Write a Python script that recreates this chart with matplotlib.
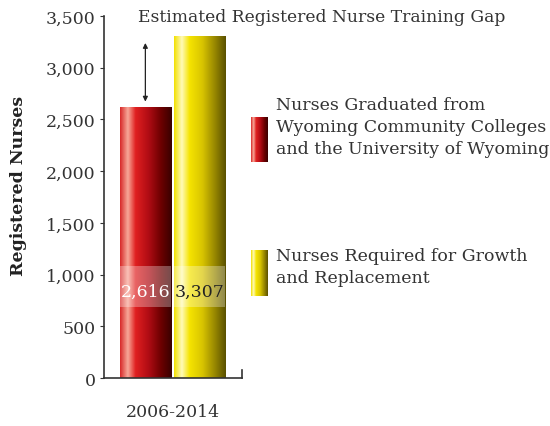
import numpy as np
import matplotlib
matplotlib.use('Agg')
import matplotlib.pyplot as plt
from matplotlib.colors import LinearSegmentedColormap

period = ['2006-2014']
series = ['Nurses Graduated from\nWyoming Community Colleges\nand the University of Wyoming',
          'Nurses Required for Growth\nand Replacement']
values = [2616, 3307]
value_labels = ['2,616', '3,307']
yticks = [0, 500, 1000, 1500, 2000, 2500, 3000, 3500]

plt.rcParams['font.family'] = ['DejaVu Serif']

red_cmap = LinearSegmentedColormap.from_list('red', [
    (0.0, '#d82828'), (0.15, '#f7a898'), (0.3, '#e02020'),
    (0.55, '#b00c14'), (0.8, '#6a0000'), (1.0, '#380000')])
yel_cmap = LinearSegmentedColormap.from_list('yel', [
    (0.0, '#f2e000'), (0.15, '#fffab8'), (0.3, '#f5e400'),
    (0.55, '#d8c400'), (0.8, '#948400'), (1.0, '#5a5000')])
cmaps = [red_cmap, yel_cmap]
label_colors = ['white', '#222222']

fig = plt.figure(figsize=(5.5, 4.27), dpi=100)
ax = fig.add_axes([0.189, 0.1124, 0.251, 0.8476])
ax.set_xlim(0, 1)
ax.set_ylim(0, 3500)

grad = np.linspace(0, 1, 256).reshape(1, -1)
lefts = [0.115, 0.51]
width = 0.37
for i, v in enumerate(values):
    x0, x1 = lefts[i], lefts[i] + width
    ax.imshow(grad, cmap=cmaps[i], aspect='auto', extent=[x0, x1, 0, v],
              origin='lower', zorder=2)
    ax.add_patch(plt.Rectangle((x0, 690), width, 395, facecolor='white',
                               alpha=0.3, edgecolor='none', zorder=3))
    ax.text(x0 + width / 2, 840, value_labels[i], ha='center', va='center',
            fontsize=12.5, color=label_colors[i], zorder=4)

# gap arrow
ax.annotate('', xy=(lefts[0] + width / 2, values[0] + 30),
            xytext=(lefts[0] + width / 2, values[1] - 40),
            arrowprops=dict(arrowstyle='<|-|>', color='#222222', lw=0.9,
                            mutation_scale=7), zorder=5)

ax.set_yticks(yticks)
ax.set_yticklabels([f'{t:,}' for t in yticks], fontsize=12.5, color='#333333')
ax.set_xticks([])
ax.set_xlabel(period[0], fontsize=12.5, color='#333333')
ax.xaxis.set_label_coords(0.5, -0.07)
ax.set_ylabel('Registered Nurses', fontsize=12.5, fontweight='bold',
              color='#222222')
ax.yaxis.set_label_coords(-0.56, 0.533)
for s in ['top', 'right']:
    ax.spines[s].set_visible(False)
for s in ['left', 'bottom']:
    ax.spines[s].set_color('#333333')
    ax.spines[s].set_linewidth(1.2)
ax.tick_params(axis='y', length=3, color='#333333', pad=3)
ax.plot([1, 1], [0, 80], color='#333333', lw=1.2, clip_on=False)
ax.patch.set_alpha(0)

fig.text(0.584, 0.958, 'Estimated Registered Nurse Training Gap', ha='center',
         va='center', fontsize=12.3, color='#333333')

# legend
swatch_y = [(118, 163), (251, 297)]
text_y = [97, 248]
for i in range(2):
    y0, y1 = swatch_y[i]
    sax = fig.add_axes([251 / 550, 1 - y1 / 427, 17 / 550, (y1 - y0) / 427])
    sax.imshow(grad, cmap=cmaps[i], aspect='auto')
    sax.axis('off')
    fig.text(276 / 550, 1 - text_y[i] / 427, series[i], ha='left', va='top',
             fontsize=12.5, color='#333333', linespacing=1.4)

fig.savefig('out.png', dpi=100)
